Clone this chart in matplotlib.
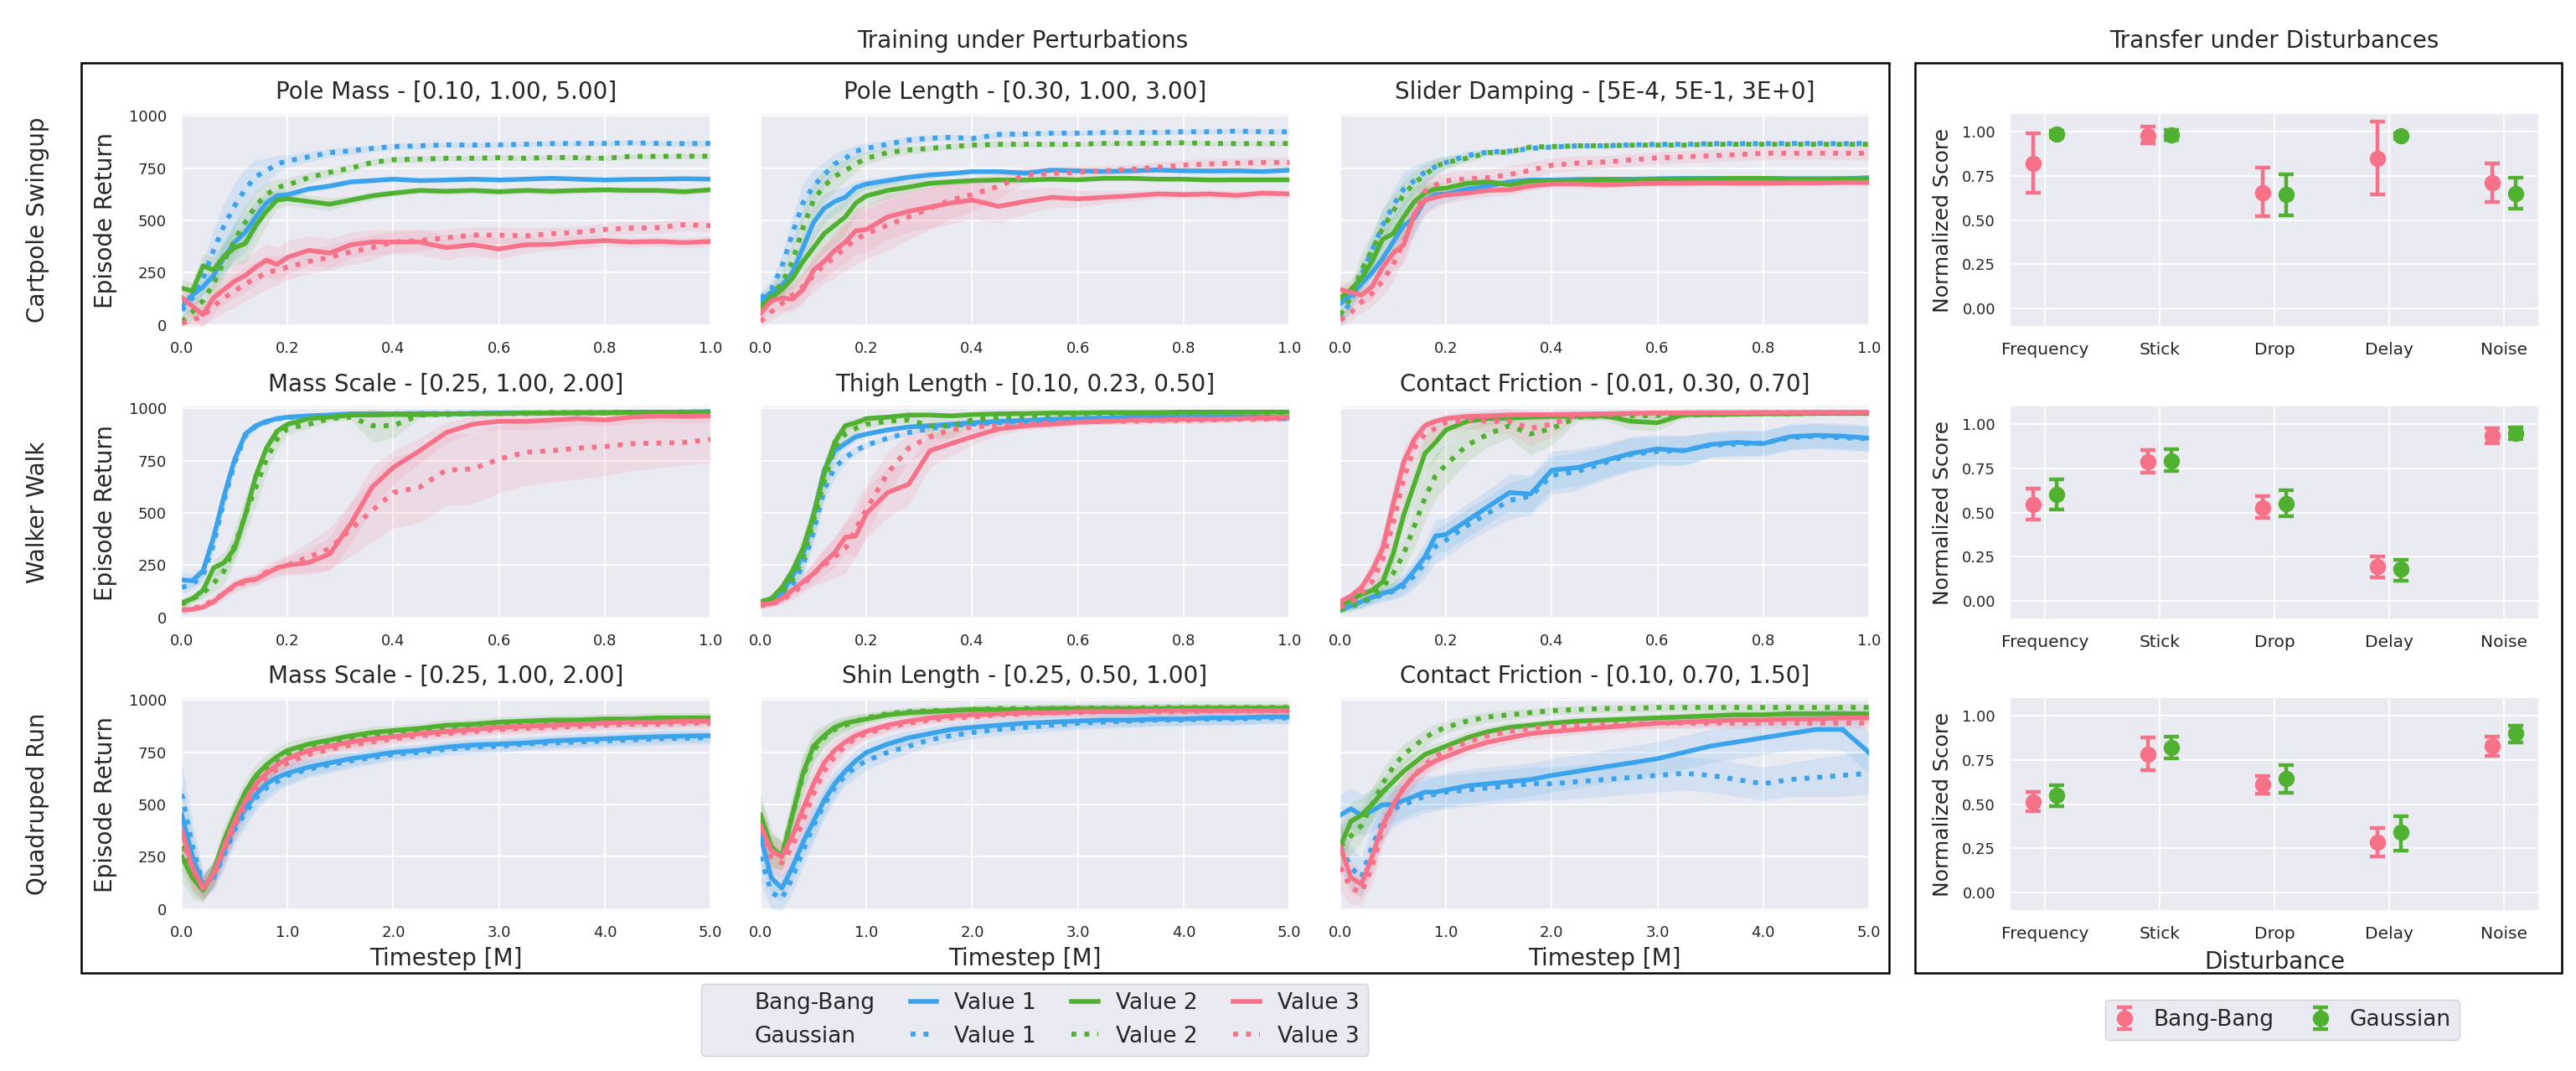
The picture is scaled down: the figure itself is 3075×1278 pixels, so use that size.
import numpy as np
import matplotlib
matplotlib.use('Agg')
import matplotlib.pyplot as plt
from matplotlib.lines import Line2D
from matplotlib.patches import Rectangle

# evaluation points (fraction of run for cartpole/walker, million steps for quadruped)
steps_short = [0, 0.02, 0.04, 0.06, 0.08, 0.10, 0.12, 0.14, 0.16, 0.18, 0.20, 0.24, 0.28, 0.32,
               0.36, 0.40, 0.45, 0.50, 0.55, 0.60, 0.65, 0.70, 0.75, 0.80, 0.85, 0.90, 0.95, 1.0]
steps_long = [0, 0.1, 0.2, 0.3, 0.4, 0.5, 0.6, 0.7, 0.8, 0.9, 1.0, 1.2, 1.4, 1.6,
              1.8, 2.0, 2.25, 2.5, 2.75, 3.0, 3.25, 3.5, 3.75, 4.0, 4.25, 4.5, 4.75, 5.0]

# ---- Cartpole Swingup / Pole Mass
cpm_bb1 = [90, 143, 183, 237, 324, 397, 444, 517, 584, 618, 624, 651, 665, 685, 691, 698, 691, 694, 698, 694, 698, 702, 698, 694, 697, 698, 700, 698]
cpm_bb2 = [176, 163, 283, 263, 330, 370, 390, 477, 544, 598, 604, 591, 578, 598, 618, 631, 644, 640, 644, 638, 644, 640, 644, 647, 644, 644, 638, 647]
cpm_bb3 = [130, 90, 49, 130, 170, 210, 237, 277, 310, 290, 324, 357, 344, 384, 397, 397, 397, 370, 384, 364, 384, 386, 397, 404, 397, 400, 394, 400]
cpm_ga1 = [70, 130, 223, 357, 477, 571, 651, 711, 738, 771, 785, 805, 825, 834, 845, 854, 858, 862, 861, 862, 865, 868, 869, 869, 872, 869, 868, 869]
cpm_ga2 = [16, 63, 116, 197, 304, 410, 491, 571, 624, 658, 671, 705, 731, 751, 778, 791, 794, 798, 798, 801, 798, 802, 801, 798, 807, 807, 808, 808]
cpm_ga3 = [9, 23, 43, 90, 130, 163, 197, 223, 250, 263, 277, 304, 324, 350, 370, 397, 404, 417, 430, 430, 426, 437, 444, 457, 464, 466, 480, 475]
cpm_bb1_sd = [30, 30, 40, 60, 80, 90, 90, 80, 50, 30, 20, 15, 15, 12, 12, 10, 10, 10, 10, 10, 10, 10, 10, 10, 10, 10, 10, 10]
cpm_bb2_sd = [40, 40, 60, 60, 70, 80, 90, 90, 70, 40, 30, 30, 30, 20, 20, 15, 15, 15, 15, 15, 15, 15, 15, 15, 15, 15, 15, 15]
cpm_bb3_sd = [50, 60, 60, 70, 70, 80, 80, 80, 80, 80, 80, 70, 70, 60, 60, 60, 60, 60, 50, 50, 40, 30, 30, 25, 25, 25, 25, 25]
cpm_ga1_sd = [40, 60, 80, 100, 110, 110, 100, 80, 60, 40, 30, 25, 20, 20, 15, 15, 15, 12, 12, 12, 12, 12, 12, 12, 12, 12, 15, 15]
cpm_ga2_sd = [30, 40, 60, 70, 80, 80, 80, 70, 60, 40, 30, 25, 20, 20, 15, 15, 15, 12, 12, 12, 12, 12, 12, 12, 12, 12, 12, 12]
cpm_ga3_sd = [30, 40, 50, 60, 70, 80, 80, 80, 80, 70, 60, 60, 60, 60, 60, 50, 50, 40, 40, 40, 40, 30, 30, 30, 30, 30, 30, 30]

# ---- Cartpole Swingup / Pole Length
cpl_bb1 = [116, 156, 190, 250, 370, 491, 558, 591, 611, 658, 675, 691, 707, 718, 725, 734, 734, 727, 741, 738, 735, 738, 742, 738, 737, 738, 735, 741]
cpl_bb2 = [90, 130, 170, 223, 304, 370, 437, 477, 517, 584, 618, 644, 660, 678, 685, 691, 694, 694, 698, 695, 702, 702, 698, 698, 694, 695, 695, 695]
cpl_bb3 = [56, 116, 130, 123, 170, 263, 304, 357, 397, 451, 457, 517, 544, 564, 584, 598, 568, 591, 611, 604, 611, 618, 627, 624, 627, 620, 631, 627]
cpl_ga1 = [130, 170, 277, 437, 584, 665, 718, 771, 798, 832, 845, 865, 885, 894, 898, 892, 912, 914, 918, 918, 921, 922, 922, 925, 925, 928, 925, 925]
cpl_ga2 = [76, 143, 197, 304, 464, 598, 665, 711, 738, 771, 798, 825, 838, 845, 854, 861, 865, 865, 865, 865, 869, 869, 870, 872, 869, 868, 868, 869]
cpl_ga3 = [16, 63, 103, 143, 183, 237, 290, 324, 370, 410, 437, 477, 517, 558, 598, 624, 664, 718, 725, 731, 738, 745, 755, 765, 771, 775, 778, 778]
cpl_bb1_sd = [30, 30, 40, 50, 70, 80, 70, 60, 50, 30, 25, 20, 15, 15, 12, 12, 12, 12, 12, 12, 12, 12, 12, 12, 12, 12, 12, 12]
cpl_bb2_sd = [30, 30, 40, 50, 70, 80, 90, 90, 80, 60, 50, 40, 30, 20, 15, 15, 15, 12, 12, 12, 12, 12, 12, 12, 12, 12, 12, 12]
cpl_bb3_sd = [40, 50, 60, 60, 70, 70, 80, 90, 100, 110, 110, 110, 100, 100, 100, 90, 80, 60, 50, 40, 30, 25, 20, 20, 20, 20, 20, 20]
cpl_ga1_sd = [30, 40, 60, 80, 90, 80, 60, 50, 40, 30, 25, 20, 20, 15, 15, 15, 15, 12, 12, 12, 12, 12, 12, 12, 12, 12, 12, 12]
cpl_ga2_sd = [30, 40, 60, 80, 90, 90, 80, 70, 50, 40, 30, 25, 20, 15, 15, 15, 15, 12, 12, 12, 12, 12, 12, 12, 12, 12, 12, 12]
cpl_ga3_sd = [30, 40, 50, 60, 70, 80, 90, 100, 110, 120, 120, 120, 110, 100, 90, 80, 60, 40, 30, 30, 25, 25, 25, 25, 25, 25, 25, 25]

# ---- Cartpole Swingup / Slider Damping
cpd_bb1 = [103, 143, 197, 250, 317, 397, 477, 511, 598, 624, 627, 651, 665, 685, 694, 694, 697, 698, 698, 700, 702, 702, 702, 702, 700, 700, 700, 705]
cpd_bb2 = [130, 170, 223, 304, 410, 437, 517, 591, 631, 651, 655, 678, 685, 671, 689, 689, 691, 694, 691, 697, 699, 700, 702, 702, 699, 699, 700, 700]
cpd_bb3 = [170, 156, 143, 183, 277, 344, 384, 531, 598, 611, 622, 631, 644, 647, 665, 675, 675, 671, 675, 678, 678, 680, 678, 678, 680, 680, 682, 682]
cpd_ga1 = [23, 116, 237, 357, 477, 571, 651, 691, 731, 758, 778, 811, 828, 832, 845, 852, 858, 858, 862, 865, 865, 868, 868, 868, 869, 869, 868, 869]
cpd_ga2 = [49, 130, 263, 357, 464, 544, 624, 678, 718, 758, 778, 798, 825, 828, 852, 854, 858, 858, 861, 861, 861, 865, 865, 865, 865, 865, 865, 865]
cpd_ga3 = [23, 60, 110, 150, 210, 290, 400, 520, 640, 670, 690, 700, 705, 720, 740, 765, 775, 780, 790, 800, 805, 810, 815, 822, 822, 822, 822, 822]
cpd_bb1_sd = [40, 40, 50, 60, 70, 80, 90, 90, 70, 50, 40, 30, 20, 15, 12, 12, 12, 10, 10, 10, 10, 10, 10, 10, 10, 10, 10, 10]
cpd_bb2_sd = [40, 50, 60, 70, 80, 80, 80, 70, 50, 40, 30, 25, 20, 15, 12, 12, 12, 10, 10, 10, 10, 10, 10, 10, 10, 10, 10, 10]
cpd_bb3_sd = [40, 40, 50, 60, 70, 80, 90, 90, 70, 50, 40, 30, 30, 25, 20, 20, 20, 15, 15, 15, 15, 15, 15, 15, 15, 15, 15, 15]
cpd_ga1_sd = [40, 50, 60, 70, 80, 80, 80, 70, 50, 40, 30, 20, 15, 15, 12, 12, 12, 12, 12, 12, 12, 12, 12, 12, 12, 12, 12, 12]
cpd_ga2_sd = [40, 60, 80, 90, 90, 80, 70, 60, 50, 40, 30, 20, 15, 15, 12, 12, 12, 12, 12, 12, 12, 12, 12, 12, 12, 12, 12, 12]
cpd_ga3_sd = [30, 40, 50, 60, 70, 80, 80, 70, 60, 50, 40, 40, 40, 40, 40, 35, 35, 30, 30, 30, 30, 30, 30, 30, 30, 30, 30, 35]

# ---- Walker Walk / Mass Scale
wkm_bb1 = [180, 176, 223, 384, 584, 758, 878, 918, 939, 952, 959, 965, 969, 975, 975, 975, 976, 975, 976, 979, 979, 979, 981, 981, 983, 983, 983, 985]
wkm_bb2 = [70, 90, 130, 237, 263, 330, 491, 678, 811, 892, 925, 952, 959, 969, 969, 971, 971, 975, 976, 976, 979, 979, 979, 979, 981, 981, 983, 983]
wkm_bb3 = [36, 39, 49, 76, 116, 156, 176, 183, 210, 237, 250, 263, 304, 451, 624, 718, 798, 885, 925, 939, 939, 945, 952, 945, 959, 965, 962, 965]
wkm_ga1 = [143, 160, 200, 350, 560, 740, 870, 915, 935, 950, 957, 963, 968, 972, 974, 975, 976, 976, 977, 978, 979, 980, 980, 981, 982, 982, 983, 984]
wkm_ga2 = [63, 90, 116, 163, 223, 344, 491, 624, 758, 852, 905, 925, 952, 959, 918, 918, 969, 971, 975, 976, 976, 979, 979, 979, 981, 981, 983, 983]
wkm_ga3 = [36, 43, 56, 83, 116, 150, 170, 183, 217, 237, 250, 290, 330, 424, 511, 598, 624, 705, 711, 758, 791, 798, 811, 818, 832, 834, 838, 852]
wkm_bb1_sd = [40, 30, 30, 40, 40, 30, 20, 15, 10, 10, 8, 8, 8, 8, 8, 8, 8, 8, 8, 8, 8, 8, 8, 8, 8, 8, 8, 8]
wkm_bb2_sd = [20, 20, 25, 40, 50, 50, 50, 40, 30, 20, 15, 10, 10, 10, 10, 10, 10, 10, 10, 10, 10, 10, 10, 10, 10, 10, 10, 10]
wkm_bb3_sd = [10, 10, 10, 15, 20, 20, 25, 25, 30, 30, 40, 60, 80, 100, 100, 80, 60, 50, 40, 40, 40, 40, 30, 30, 30, 30, 30, 30]
wkm_ga1_sd = [30, 30, 30, 40, 40, 30, 20, 15, 10, 10, 8, 8, 8, 8, 8, 8, 8, 8, 8, 8, 8, 8, 8, 8, 8, 8, 8, 8]
wkm_ga2_sd = [20, 20, 25, 40, 60, 80, 90, 90, 70, 50, 30, 20, 15, 15, 80, 60, 15, 10, 10, 10, 10, 10, 10, 10, 10, 10, 10, 10]
wkm_ga3_sd = [20, 20, 20, 25, 30, 30, 30, 30, 40, 40, 50, 70, 100, 130, 150, 170, 170, 170, 170, 160, 160, 150, 150, 140, 130, 120, 110, 110]

# ---- Walker Walk / Thigh Length
wkt_bb1 = [70, 76, 116, 197, 304, 491, 705, 798, 832, 865, 878, 898, 912, 918, 925, 932, 939, 943, 949, 952, 955, 959, 959, 962, 962, 962, 960, 955]
wkt_bb2 = [76, 90, 143, 223, 330, 491, 691, 838, 918, 932, 952, 959, 969, 969, 965, 971, 975, 976, 979, 979, 981, 981, 981, 983, 983, 983, 983, 983]
wkt_bb3 = [63, 66, 90, 130, 170, 210, 263, 310, 384, 390, 498, 598, 638, 798, 832, 865, 902, 918, 925, 935, 939, 945, 945, 949, 949, 952, 955, 959]
wkt_ga1 = [70, 76, 90, 156, 250, 410, 611, 718, 765, 798, 825, 858, 885, 905, 918, 925, 932, 939, 945, 949, 952, 955, 955, 959, 959, 959, 955, 952]
wkt_ga2 = [70, 76, 116, 183, 277, 464, 651, 811, 878, 905, 925, 939, 945, 918, 918, 945, 959, 965, 969, 975, 977, 979, 979, 979, 981, 981, 981, 981]
wkt_ga3 = [56, 63, 83, 116, 156, 210, 250, 290, 330, 424, 517, 691, 811, 865, 898, 912, 918, 925, 932, 935, 939, 939, 943, 943, 945, 949, 949, 952]
wkt_bb1_sd = [15, 15, 20, 30, 50, 60, 50, 30, 25, 20, 15, 15, 12, 12, 10, 10, 10, 10, 10, 10, 10, 10, 10, 10, 10, 10, 10, 10]
wkt_bb2_sd = [15, 15, 20, 40, 60, 70, 60, 40, 25, 20, 15, 12, 12, 10, 10, 10, 10, 10, 10, 10, 10, 10, 10, 10, 10, 10, 10, 10]
wkt_bb3_sd = [15, 15, 20, 30, 40, 50, 60, 70, 80, 100, 120, 120, 100, 80, 60, 40, 30, 20, 20, 15, 15, 15, 15, 15, 15, 15, 15, 15]
wkt_ga1_sd = [15, 15, 20, 30, 50, 60, 60, 50, 30, 20, 15, 12, 12, 10, 10, 10, 10, 10, 10, 10, 10, 10, 10, 10, 10, 10, 10, 10]
wkt_ga2_sd = [15, 15, 20, 40, 60, 80, 80, 60, 40, 25, 20, 15, 15, 60, 60, 20, 10, 10, 10, 10, 10, 10, 10, 10, 10, 10, 10, 10]
wkt_ga3_sd = [15, 15, 20, 30, 40, 60, 80, 100, 120, 130, 120, 100, 70, 50, 40, 30, 25, 20, 20, 15, 15, 15, 15, 15, 15, 15, 15, 15]

# ---- Walker Walk / Contact Friction
wkf_bb1 = [36, 56, 76, 96, 116, 130, 163, 223, 290, 390, 397, 464, 531, 598, 591, 705, 718, 751, 785, 807, 798, 828, 838, 832, 865, 872, 868, 858]
wkf_bb2 = [56, 83, 110, 130, 170, 304, 491, 638, 785, 838, 898, 939, 952, 955, 959, 962, 962, 965, 939, 932, 971, 971, 973, 975, 975, 977, 977, 977]
wkf_bb3 = [76, 103, 143, 223, 330, 544, 745, 852, 918, 939, 952, 962, 965, 969, 971, 971, 973, 975, 977, 979, 979, 980, 980, 981, 981, 982, 982, 982]
wkf_ga1 = [36, 50, 70, 90, 110, 125, 150, 200, 260, 340, 370, 440, 500, 560, 580, 680, 700, 740, 780, 795, 800, 825, 830, 835, 860, 868, 860, 855]
wkf_ga2 = [36, 56, 70, 103, 143, 210, 304, 437, 571, 678, 731, 825, 878, 918, 878, 905, 959, 962, 965, 967, 969, 971, 973, 975, 975, 977, 977, 977]
wkf_ga3 = [49, 70, 116, 170, 277, 451, 665, 811, 878, 905, 932, 945, 939, 939, 905, 925, 971, 973, 975, 977, 979, 980, 980, 981, 981, 982, 982, 982]
wkf_bb1_sd = [15, 20, 25, 30, 35, 40, 50, 60, 70, 80, 80, 80, 80, 90, 90, 90, 90, 80, 80, 70, 70, 60, 60, 60, 60, 60, 60, 60]
wkf_bb2_sd = [15, 20, 25, 30, 40, 60, 80, 90, 90, 80, 60, 40, 30, 20, 15, 15, 15, 20, 40, 40, 15, 10, 10, 10, 10, 10, 10, 10]
wkf_bb3_sd = [15, 20, 30, 50, 70, 80, 70, 40, 25, 15, 10, 10, 10, 10, 10, 10, 10, 10, 10, 10, 10, 10, 10, 10, 10, 10, 10, 10]
wkf_ga1_sd = [15, 20, 25, 30, 35, 40, 50, 60, 70, 80, 80, 80, 80, 90, 90, 90, 90, 80, 80, 70, 70, 60, 60, 60, 60, 60, 60, 60]
wkf_ga2_sd = [15, 20, 25, 30, 40, 60, 80, 100, 110, 110, 100, 80, 60, 60, 100, 80, 20, 15, 15, 15, 15, 10, 10, 10, 10, 10, 10, 10]
wkf_ga3_sd = [15, 20, 30, 50, 70, 90, 100, 80, 60, 50, 40, 40, 50, 60, 80, 60, 15, 10, 10, 10, 10, 10, 10, 10, 10, 10, 10, 10]

# ---- Quadruped Run / Mass Scale
qdm_bb1 = [450, 250, 110, 160, 280, 400, 480, 550, 600, 630, 650, 680, 700, 720, 735, 750, 760, 775, 785, 790, 795, 805, 810, 815, 820, 825, 828, 830]
qdm_bb2 = [250, 150, 90, 180, 330, 450, 560, 640, 690, 730, 760, 790, 810, 830, 845, 855, 865, 880, 885, 895, 900, 905, 905, 910, 910, 915, 915, 915]
qdm_bb3 = [380, 200, 100, 170, 300, 420, 520, 600, 650, 690, 720, 760, 780, 800, 815, 825, 840, 850, 860, 870, 875, 880, 885, 890, 895, 895, 900, 900]
qdm_ga1 = [550, 300, 120, 150, 260, 380, 460, 530, 580, 610, 640, 670, 690, 710, 725, 740, 750, 765, 775, 780, 790, 795, 800, 805, 810, 815, 818, 820]
qdm_ga2 = [300, 180, 100, 170, 310, 430, 530, 610, 660, 700, 735, 770, 790, 810, 825, 840, 850, 860, 870, 880, 885, 890, 895, 900, 900, 905, 905, 910]
qdm_ga3 = [350, 190, 100, 160, 280, 400, 500, 580, 630, 670, 700, 740, 765, 785, 800, 815, 830, 840, 850, 860, 865, 870, 875, 880, 885, 885, 890, 890]
qdm_bb1_sd = [150, 120, 60, 60, 70, 70, 70, 60, 60, 50, 50, 40, 40, 35, 35, 30, 30, 30, 30, 30, 30, 30, 30, 30, 30, 30, 30, 30]
qdm_bb2_sd = [120, 100, 60, 60, 70, 70, 60, 50, 50, 40, 40, 35, 30, 30, 30, 25, 25, 25, 25, 25, 25, 25, 25, 25, 25, 25, 25, 25]
qdm_bb3_sd = [120, 100, 60, 60, 70, 70, 60, 50, 50, 40, 40, 35, 30, 30, 30, 25, 25, 25, 25, 25, 25, 25, 25, 25, 25, 25, 25, 25]
qdm_ga1_sd = [150, 120, 60, 60, 70, 70, 70, 60, 60, 50, 50, 40, 40, 35, 35, 30, 30, 30, 30, 30, 30, 30, 30, 30, 30, 30, 30, 30]
qdm_ga2_sd = [120, 100, 60, 60, 70, 70, 60, 50, 50, 40, 40, 35, 30, 30, 30, 25, 25, 25, 25, 25, 25, 25, 25, 25, 25, 25, 25, 25]
qdm_ga3_sd = [120, 100, 60, 60, 70, 70, 60, 50, 50, 40, 40, 35, 30, 30, 30, 25, 25, 25, 25, 25, 25, 25, 25, 25, 25, 25, 25, 25]

# ---- Quadruped Run / Shin Length
qds_bb1 = [350, 150, 100, 200, 320, 420, 520, 600, 660, 710, 750, 790, 820, 840, 860, 870, 880, 890, 895, 900, 905, 905, 910, 910, 915, 915, 920, 920]
qds_bb2 = [450, 300, 250, 450, 650, 780, 830, 870, 890, 900, 910, 930, 940, 945, 950, 955, 955, 955, 960, 960, 960, 960, 960, 962, 962, 962, 962, 962]
qds_bb3 = [400, 280, 250, 350, 480, 600, 700, 760, 800, 830, 850, 880, 900, 915, 925, 930, 935, 940, 940, 945, 945, 945, 950, 950, 950, 950, 950, 950]
qds_ga1 = [250, 80, 50, 150, 280, 400, 500, 580, 640, 680, 710, 750, 780, 810, 830, 845, 860, 870, 880, 890, 895, 900, 905, 905, 910, 910, 915, 915]
qds_ga2 = [430, 280, 260, 450, 640, 760, 820, 860, 880, 900, 915, 935, 945, 950, 950, 955, 960, 960, 960, 962, 962, 962, 965, 965, 965, 965, 965, 965]
qds_ga3 = [380, 250, 220, 300, 420, 550, 660, 730, 780, 820, 840, 870, 890, 905, 915, 920, 930, 935, 940, 940, 945, 945, 945, 945, 948, 948, 948, 948]
qds_bb1_sd = [120, 80, 60, 70, 80, 80, 70, 60, 50, 50, 45, 40, 35, 30, 30, 30, 30, 30, 30, 30, 30, 30, 30, 30, 30, 30, 30, 30]
qds_bb2_sd = [100, 80, 70, 90, 90, 70, 50, 40, 35, 30, 25, 20, 20, 20, 20, 20, 20, 20, 20, 20, 20, 20, 20, 20, 20, 20, 20, 20]
qds_bb3_sd = [100, 80, 70, 80, 80, 70, 60, 50, 40, 35, 30, 25, 25, 20, 20, 20, 20, 20, 20, 20, 20, 20, 20, 20, 20, 20, 20, 20]
qds_ga1_sd = [120, 80, 60, 70, 80, 80, 70, 60, 50, 50, 45, 40, 35, 30, 30, 30, 30, 30, 30, 30, 30, 30, 30, 30, 30, 30, 30, 30]
qds_ga2_sd = [100, 80, 70, 90, 90, 70, 50, 40, 35, 30, 25, 20, 20, 20, 20, 20, 20, 20, 20, 20, 20, 20, 20, 20, 20, 20, 20, 20]
qds_ga3_sd = [100, 80, 70, 80, 80, 70, 60, 50, 40, 35, 30, 25, 25, 20, 20, 20, 20, 20, 20, 20, 20, 20, 20, 20, 20, 20, 20, 20]

# ---- Quadruped Run / Contact Friction
qdf_bb1 = [450, 480, 450, 470, 500, 500, 520, 540, 560, 560, 570, 590, 600, 610, 620, 640, 660, 680, 700, 720, 750, 780, 800, 820, 840, 860, 860, 750]
qdf_bb2 = [300, 420, 450, 500, 560, 610, 660, 700, 740, 760, 780, 820, 850, 870, 880, 890, 900, 905, 910, 915, 920, 925, 930, 930, 935, 935, 935, 935]
qdf_bb3 = [300, 150, 120, 250, 400, 500, 580, 640, 680, 710, 730, 770, 800, 820, 840, 850, 860, 870, 880, 890, 895, 900, 905, 905, 910, 910, 915, 915]
qdf_ga1 = [300, 200, 150, 300, 420, 480, 500, 520, 540, 550, 560, 570, 580, 590, 600, 600, 610, 620, 630, 640, 650, 640, 620, 600, 620, 630, 640, 650]
qdf_ga2 = [300, 350, 400, 500, 600, 680, 740, 780, 820, 850, 870, 900, 920, 930, 940, 950, 955, 960, 960, 965, 965, 965, 965, 965, 965, 965, 965, 965]
qdf_ga3 = [200, 100, 80, 200, 380, 500, 580, 640, 690, 730, 760, 800, 830, 850, 865, 875, 880, 885, 885, 890, 890, 890, 890, 890, 890, 890, 890, 890]
qdf_bb1_sd = [100, 100, 100, 100, 90, 90, 80, 80, 80, 80, 80, 80, 80, 80, 80, 80, 80, 80, 80, 80, 80, 80, 80, 80, 80, 90, 100, 100]
qdf_bb2_sd = [100, 90, 80, 80, 70, 60, 50, 45, 40, 35, 30, 30, 25, 25, 20, 20, 20, 20, 20, 20, 20, 20, 20, 20, 20, 20, 20, 20]
qdf_bb3_sd = [120, 80, 60, 80, 80, 70, 60, 50, 45, 40, 35, 30, 30, 25, 25, 25, 25, 25, 25, 25, 25, 25, 25, 25, 25, 25, 25, 25]
qdf_ga1_sd = [100, 100, 100, 100, 90, 90, 80, 80, 80, 80, 80, 80, 80, 80, 80, 80, 80, 80, 80, 80, 80, 80, 80, 80, 80, 90, 100, 100]
qdf_ga2_sd = [100, 90, 80, 80, 70, 60, 50, 45, 40, 35, 30, 30, 25, 25, 20, 20, 20, 20, 20, 20, 20, 20, 20, 20, 20, 20, 20, 20]
qdf_ga3_sd = [120, 80, 60, 80, 80, 70, 60, 50, 45, 40, 35, 30, 30, 25, 25, 25, 25, 25, 25, 25, 25, 25, 25, 25, 25, 25, 25, 25]

titles = ['Pole Mass - [0.10, 1.00, 5.00]', 'Pole Length - [0.30, 1.00, 3.00]',
          'Slider Damping - [5E-4, 5E-1, 3E+0]', 'Mass Scale - [0.25, 1.00, 2.00]',
          'Thigh Length - [0.10, 0.23, 0.50]', 'Contact Friction - [0.01, 0.30, 0.70]',
          'Mass Scale - [0.25, 1.00, 2.00]', 'Shin Length - [0.25, 0.50, 1.00]',
          'Contact Friction - [0.10, 0.70, 1.50]']
envs = ['Cartpole Swingup', 'Walker Walk', 'Quadruped Run']

# ---- transfer under disturbances (normalized score, error bar ends)
disturbances = ['Frequency', 'Stick', 'Drop', 'Delay', 'Noise']
cp_bang = [0.820, 0.976, 0.655, 0.848, 0.713]
cp_bang_lo = [0.655, 0.934, 0.519, 0.643, 0.603]
cp_bang_hi = [0.989, 1.027, 0.796, 1.055, 0.821]
cp_gauss = [0.987, 0.981, 0.644, 0.976, 0.650]
cp_gauss_lo = [0.967, 0.951, 0.525, 0.960, 0.566]
cp_gauss_hi = [1.007, 1.011, 0.760, 0.992, 0.738]
wk_bang = [0.547, 0.788, 0.528, 0.193, 0.932]
wk_bang_lo = [0.458, 0.725, 0.469, 0.134, 0.892]
wk_bang_hi = [0.637, 0.854, 0.594, 0.253, 0.975]
wk_gauss = [0.602, 0.794, 0.552, 0.178, 0.948]
wk_gauss_lo = [0.516, 0.733, 0.480, 0.115, 0.914]
wk_gauss_hi = [0.689, 0.860, 0.626, 0.230, 0.980]
qd_bang = [0.514, 0.784, 0.613, 0.284, 0.828]
qd_bang_lo = [0.458, 0.694, 0.558, 0.205, 0.774]
qd_bang_hi = [0.569, 0.875, 0.661, 0.364, 0.881]
qd_gauss = [0.549, 0.820, 0.643, 0.339, 0.901]
qd_gauss_lo = [0.487, 0.757, 0.566, 0.235, 0.851]
qd_gauss_hi = [0.608, 0.881, 0.721, 0.433, 0.945]

colors = ['#3ba3ec', '#50b131', '#f77189']   # value 1, 2, 3
pink, green = '#f77189', '#50b131'

panels = [
    (steps_short, [cpm_bb1, cpm_bb2, cpm_bb3], [cpm_ga1, cpm_ga2, cpm_ga3],
     [cpm_bb1_sd, cpm_bb2_sd, cpm_bb3_sd], [cpm_ga1_sd, cpm_ga2_sd, cpm_ga3_sd]),
    (steps_short, [cpl_bb1, cpl_bb2, cpl_bb3], [cpl_ga1, cpl_ga2, cpl_ga3],
     [cpl_bb1_sd, cpl_bb2_sd, cpl_bb3_sd], [cpl_ga1_sd, cpl_ga2_sd, cpl_ga3_sd]),
    (steps_short, [cpd_bb1, cpd_bb2, cpd_bb3], [cpd_ga1, cpd_ga2, cpd_ga3],
     [cpd_bb1_sd, cpd_bb2_sd, cpd_bb3_sd], [cpd_ga1_sd, cpd_ga2_sd, cpd_ga3_sd]),
    (steps_short, [wkm_bb1, wkm_bb2, wkm_bb3], [wkm_ga1, wkm_ga2, wkm_ga3],
     [wkm_bb1_sd, wkm_bb2_sd, wkm_bb3_sd], [wkm_ga1_sd, wkm_ga2_sd, wkm_ga3_sd]),
    (steps_short, [wkt_bb1, wkt_bb2, wkt_bb3], [wkt_ga1, wkt_ga2, wkt_ga3],
     [wkt_bb1_sd, wkt_bb2_sd, wkt_bb3_sd], [wkt_ga1_sd, wkt_ga2_sd, wkt_ga3_sd]),
    (steps_short, [wkf_bb1, wkf_bb2, wkf_bb3], [wkf_ga1, wkf_ga2, wkf_ga3],
     [wkf_bb1_sd, wkf_bb2_sd, wkf_bb3_sd], [wkf_ga1_sd, wkf_ga2_sd, wkf_ga3_sd]),
    (steps_long, [qdm_bb1, qdm_bb2, qdm_bb3], [qdm_ga1, qdm_ga2, qdm_ga3],
     [qdm_bb1_sd, qdm_bb2_sd, qdm_bb3_sd], [qdm_ga1_sd, qdm_ga2_sd, qdm_ga3_sd]),
    (steps_long, [qds_bb1, qds_bb2, qds_bb3], [qds_ga1, qds_ga2, qds_ga3],
     [qds_bb1_sd, qds_bb2_sd, qds_bb3_sd], [qds_ga1_sd, qds_ga2_sd, qds_ga3_sd]),
    (steps_long, [qdf_bb1, qdf_bb2, qdf_bb3], [qdf_ga1, qdf_ga2, qdf_ga3],
     [qdf_bb1_sd, qdf_bb2_sd, qdf_bb3_sd], [qdf_ga1_sd, qdf_ga2_sd, qdf_ga3_sd]),
]
transfer = [
    (cp_bang, cp_bang_lo, cp_bang_hi, cp_gauss, cp_gauss_lo, cp_gauss_hi),
    (wk_bang, wk_bang_lo, wk_bang_hi, wk_gauss, wk_gauss_lo, wk_gauss_hi),
    (qd_bang, qd_bang_lo, qd_bang_hi, qd_gauss, qd_gauss_lo, qd_gauss_hi),
]

plt.rcParams.update({
    'font.family': 'DejaVu Sans',
    'axes.facecolor': '#EAEAF2',
    'axes.edgecolor': 'white',
    'axes.grid': True,
    'axes.axisbelow': True,
    'grid.color': 'white',
    'grid.linewidth': 1.3,
    'xtick.major.size': 0,
    'ytick.major.size': 0,
    'text.color': '.15',
    'axes.labelcolor': '.15',
    'xtick.color': '.15',
    'ytick.color': '.15',
})

fig = plt.figure(figsize=(30.75, 12.78), dpi=100)

col_left = [0.0706, 0.2953, 0.5203]
row_bottom = [0.6956, 0.4225, 0.1502]
ax_w, ax_h = 0.2052, 0.198
solid_lw, dot_lw = 4.0, 4.2

for i, (xs, bb, ga, bb_sd, ga_sd) in enumerate(panels):
    r, c = divmod(i, 3)
    ax = fig.add_axes([col_left[c], row_bottom[r], ax_w, ax_h])
    x = np.array(xs)
    for k in range(3):
        for vals, sd in ((bb[k], bb_sd[k]), (ga[k], ga_sd[k])):
            y = np.array(vals, dtype=float)
            s = np.array(sd, dtype=float)
            ax.fill_between(x, y - s, np.minimum(y + s, 1000), color=colors[k], alpha=0.13, lw=0)
    for k in range(3):
        ax.plot(x, bb[k], color=colors[k], lw=solid_lw, solid_joinstyle='round')
        ax.plot(x, ga[k], color=colors[k], lw=dot_lw, ls=':')
    for sp in ax.spines.values():
        sp.set_visible(False)
    ax.set_xlim(x[0], x[-1])
    ax.set_ylim(-5, 1010)
    ax.set_yticks([0, 250, 500, 750, 1000])
    ax.set_xticks(np.linspace(x[0], x[-1], 6))
    ax.xaxis.set_major_formatter(matplotlib.ticker.FormatStrFormatter('%.1f'))
    ax.tick_params(axis='both', labelsize=13, pad=13)
    ax.set_title(titles[i], fontsize=20, pad=13)
    if c == 0:
        ax.set_ylabel('Episode Return', fontsize=20, labelpad=10)
    else:
        ax.tick_params(axis='y', labelleft=False)
    if r == 2:
        ax.set_xlabel('Timestep [M]', fontsize=20, labelpad=6)

right_left, right_w = 0.7805, 0.2049
pos = np.arange(len(disturbances))
err_handles = []
for r, (bang, blo, bhi, gau, glo, ghi) in enumerate(transfer):
    ax = fig.add_axes([right_left, row_bottom[r], right_w, ax_h])
    for vals, lo, hi, col, off in ((bang, blo, bhi, pink, -0.1), (gau, glo, ghi, green, 0.1)):
        v = np.array(vals)
        h = ax.errorbar(pos + off, v, yerr=[v - np.array(lo), np.array(hi) - v], fmt='o',
                        color=col, ms=13, elinewidth=3.2, capsize=6.5, capthick=3.2)
        if r == 0:
            err_handles.append(h)
    for sp in ax.spines.values():
        sp.set_visible(False)
    ax.set_xlim(-0.3, 4.3)
    ax.set_ylim(-0.1, 1.1)
    ax.set_xticks(pos)
    ax.set_xticklabels(disturbances)
    ax.set_yticks([0, 0.25, 0.5, 0.75, 1.0])
    ax.yaxis.set_major_formatter(matplotlib.ticker.FormatStrFormatter('%.2f'))
    ax.tick_params(axis='x', labelsize=14.5, pad=14)
    ax.tick_params(axis='y', labelsize=13, pad=13)
    ax.set_ylabel('Normalized Score', fontsize=18, labelpad=8)
    if r == 2:
        ax.set_xlabel('Disturbance', fontsize=20, labelpad=7)

# group frames and headers
fig.patches.append(Rectangle((0.0315, 0.0915), 0.7018, 0.8498, transform=fig.transFigure,
                             fill=False, ec='black', lw=1.8))
fig.patches.append(Rectangle((0.7434, 0.0915), 0.2511, 0.8498, transform=fig.transFigure,
                             fill=False, ec='black', lw=1.8))
fig.text(0.3971, 0.9617, 'Training under Perturbations', fontsize=20, ha='center', va='center')
fig.text(0.8829, 0.9617, 'Transfer under Disturbances', fontsize=20, ha='center', va='center')
for r, env in enumerate(envs):
    fig.text(0.0146, row_bottom[r] + ax_h / 2, env, fontsize=20, rotation=90,
             ha='center', va='center')

# legends
blank = Line2D([], [], color='none')
handles, labels = [blank, blank], ['Bang-Bang', 'Gaussian']
for k in range(3):
    handles += [Line2D([], [], color=colors[k], lw=solid_lw),
                Line2D([], [], color=colors[k], lw=dot_lw, ls=':')]
    labels += ['Value %d' % (k + 1), 'Value %d' % (k + 1)]
fig.legend(handles, labels, ncol=4, loc='center', bbox_to_anchor=(0.4016, 0.0477),
           fontsize=19, handlelength=1.2, columnspacing=1.6, framealpha=1,
           facecolor='#EAEAF2', edgecolor='#d0d0d8')
fig.legend(err_handles, ['Bang-Bang', 'Gaussian'], ncol=2, loc='center',
           bbox_to_anchor=(0.886, 0.0477), fontsize=19, handlelength=1.0,
           columnspacing=1.6, framealpha=1, facecolor='#EAEAF2', edgecolor='#d0d0d8')

fig.savefig('out.png', dpi=100)
